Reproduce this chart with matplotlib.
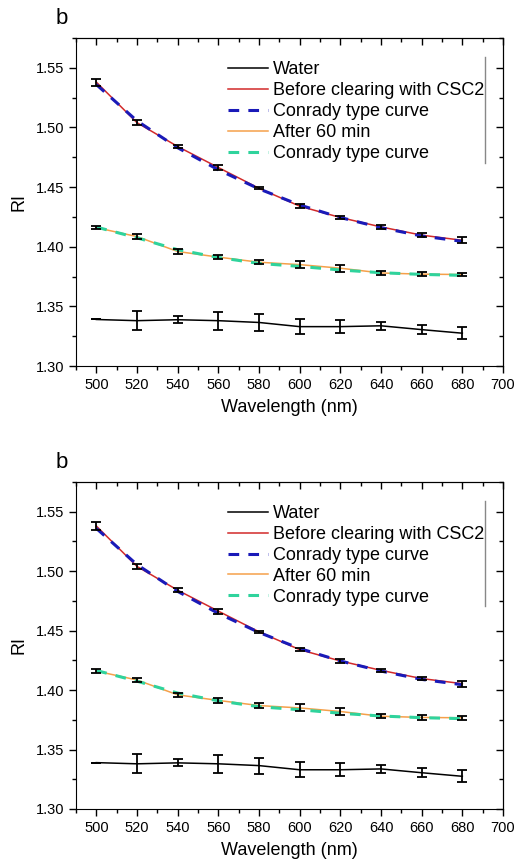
import matplotlib.pyplot as plt
from matplotlib.ticker import MultipleLocator

plt.rcParams['font.family'] = ['Liberation Sans', 'DejaVu Sans']

wavelength = [500, 520, 540, 560, 580, 600, 620, 640, 660, 680]

water = [1.339, 1.338, 1.3388, 1.338, 1.3365, 1.333, 1.333, 1.3337, 1.3305, 1.3275]
water_err = [0.0, 0.008, 0.003, 0.0075, 0.0068, 0.0063, 0.0053, 0.0034, 0.004, 0.005]

before = [1.538, 1.504, 1.484, 1.4664, 1.449, 1.434, 1.4245, 1.4166, 1.4097, 1.4054]
before_err = [0.003, 0.002, 0.0015, 0.002, 0.001, 0.0015, 0.0015, 0.0015, 0.0015, 0.0025]
conrady_before = [1.536, 1.5055, 1.483, 1.4645, 1.4485, 1.435, 1.4245, 1.416, 1.409, 1.4045]

after = [1.416, 1.4085, 1.396, 1.3913, 1.387, 1.385, 1.382, 1.378, 1.377, 1.3767]
after_err = [0.0015, 0.0018, 0.0018, 0.0018, 0.0018, 0.003, 0.003, 0.0015, 0.0018, 0.0015]
conrady_after = [1.4165, 1.4075, 1.3975, 1.391, 1.386, 1.3835, 1.3805, 1.3782, 1.3768, 1.376]

labels = ["Water", "Before clearing with CSC2", "Conrady type curve",
          "After 60 min", "Conrady type curve"]

fig = plt.figure(figsize=(5.16, 8.6), dpi=100)
W, H = 516, 860
panels = [(38, 366, 18), (482, 809, 463)]  # top px, bottom px, "b" label y px


def tick_setup(axis_obj, direction, **kw):
    axis_obj.tick_params(which="both", direction=direction, width=1.0, **kw)
    axis_obj.tick_params(which="major", length=5)
    axis_obj.tick_params(which="minor", length=3)


for top, bottom, lab_y in panels:
    ax = fig.add_axes([76 / W, 1 - bottom / H, (503 - 76) / W, (bottom - top) / H])

    h1, = ax.plot(wavelength, water, color="black", lw=1.1, zorder=2)
    h2, = ax.plot(wavelength, before, color="#d22a2a", lw=1.1, zorder=2)
    h3, = ax.plot(wavelength, conrady_before, color="#1a1ab8", lw=2.2, ls=(0, (3.5, 3)), zorder=3)
    h4, = ax.plot(wavelength, after, color="#f5a04a", lw=1.1, zorder=2)
    h5, = ax.plot(wavelength, conrady_after, color="#2fd39c", lw=2.2, ls=(0, (3.5, 3)), zorder=3)

    for y, e in [(water, water_err), (before, before_err), (after, after_err)]:
        ax.errorbar(wavelength, y, yerr=e, fmt="none", ecolor="black",
                    elinewidth=1.3, capsize=3.4, capthick=1.3, zorder=4)

    ax.set_xlim(490, 700)
    ax.set_ylim(1.30, 1.575)
    ax.set_xticks(range(500, 701, 20))
    ax.xaxis.set_minor_locator(MultipleLocator(10))
    ax.yaxis.set_major_locator(MultipleLocator(0.05))
    ax.yaxis.set_minor_locator(MultipleLocator(0.025))
    ax.yaxis.set_major_formatter(plt.FormatStrFormatter("%.2f"))
    tick_setup(ax, "out", top=False, right=False, labelsize=10.5, colors="black")

    # mirrored ticks on top/right pointing inward
    ax2 = ax.secondary_xaxis("top")
    ax2.xaxis.set_major_locator(MultipleLocator(20))
    ax2.xaxis.set_minor_locator(MultipleLocator(10))
    tick_setup(ax2, "in", labeltop=False)
    ax3 = ax.secondary_yaxis("right")
    ax3.yaxis.set_major_locator(MultipleLocator(0.05))
    ax3.yaxis.set_minor_locator(MultipleLocator(0.025))
    tick_setup(ax3, "in", labelright=False)

    ax.set_xlabel("Wavelength (nm)", fontsize=13, labelpad=5)
    ax.set_ylabel("RI", fontsize=13, labelpad=6)

    ax.legend([h1, h2, h3, h4, h5], labels, loc="upper left",
              bbox_to_anchor=(0.356, 0.93), frameon=False, fontsize=13,
              handlelength=2.2, handletextpad=0.28, labelspacing=0.22,
              borderaxespad=0, borderpad=0)
    ax.plot([0.958, 0.958], [0.62, 0.942], transform=ax.transAxes,
            color="#888888", lw=1.0, zorder=1)

    fig.text(56 / W, 1 - lab_y / H, "b", fontsize=16, va="center", ha="left")

fig.savefig("out.png", dpi=100)
